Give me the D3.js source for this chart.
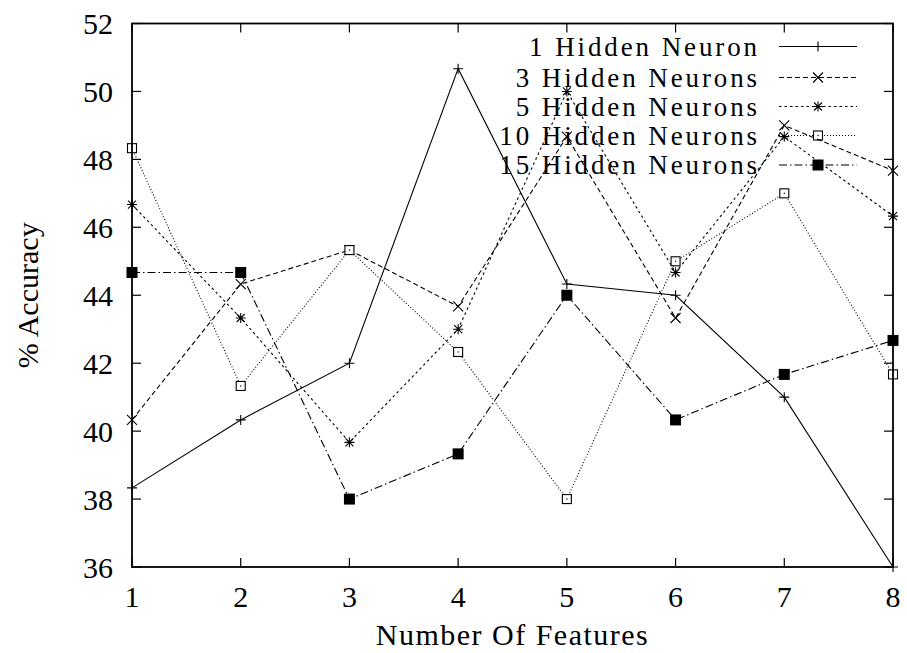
<!DOCTYPE html>
<html>
<head>
<meta charset="utf-8">
<script src="https://cdn.jsdelivr.net/npm/d3@7"></script>
<style>
  html, body { margin: 0; padding: 0; background: #fff; }
  svg { display: block; }
  text { font-family: "Liberation Serif", "Times New Roman", serif; fill: #000; }
</style>
</head>
<body>
<svg id="chart" width="907" height="653"></svg>
<script>
// Accuracy (%) against number of input features, one series per hidden-layer size
const features = [1, 2, 3, 4, 5, 6, 7, 8];
const hidden1  = [38.33, 40.33, 42.00, 50.67, 44.33, 44.00, 41.00, 36.00];
const hidden3  = [40.33, 44.33, 45.33, 43.67, 48.67, 43.33, 49.00, 47.67];
const hidden5  = [46.67, 43.33, 39.67, 43.00, 50.00, 44.67, 48.67, 46.33];
const hidden10 = [48.33, 41.33, 45.33, 42.33, 38.00, 45.00, 47.00, 41.67];
const hidden15 = [44.67, 44.67, 38.00, 39.33, 44.00, 40.33, 41.67, 42.67];
const seriesNames = ["1 Hidden Neuron", "3 Hidden Neurons", "5 Hidden Neurons",
                     "10 Hidden Neurons", "15 Hidden Neurons"];
const yTicks = [36, 38, 40, 42, 44, 46, 48, 50, 52];
const xTicks = [1, 2, 3, 4, 5, 6, 7, 8];

const W = 907, H = 653;
const margin = { top: 23.5, right: 14, bottom: 86, left: 132 };
const iw = W - margin.left - margin.right;
const ih = H - margin.top - margin.bottom;
const fontSize = 30;
const legendFontSize = 27;

const svg = d3.select("#chart");
const g = svg.append("g").attr("transform", `translate(${margin.left},${margin.top})`);

const x = d3.scaleLinear().domain([1, 8]).range([0, iw]);
const y = d3.scaleLinear().domain([36, 52]).range([ih, 0]);

const series = [hidden1, hidden3, hidden5, hidden10, hidden15];
const styles = [
  { dash: null,            marker: "plus" },
  { dash: "5,3",           marker: "cross" },
  { dash: "2.5,3",         marker: "star" },
  { dash: "1,2",           marker: "box" },
  { dash: "8,3,1.5,3",     marker: "fbox" }
];

// widen a text by spreading its letters so it spans a target width
function spreadTo(sel, target) {
  sel.each(function () {
    const n = this.textContent.length;
    const w = this.getComputedTextLength();
    if (n > 1 && w < target) d3.select(this).style("letter-spacing", ((target - w) / (n - 1)) + "px");
  });
}

function drawMarker(sel, type, cx, cy) {
  const s = 5;
  if (type === "plus") {
    sel.append("path").attr("d", `M${cx - s},${cy}H${cx + s}M${cx},${cy - s}V${cy + s}`)
      .attr("stroke", "#000").attr("stroke-width", 1.1).attr("fill", "none");
  } else if (type === "cross") {
    sel.append("path").attr("d", `M${cx - s},${cy - s}L${cx + s},${cy + s}M${cx - s},${cy + s}L${cx + s},${cy - s}`)
      .attr("stroke", "#000").attr("stroke-width", 1.1).attr("fill", "none");
  } else if (type === "star") {
    sel.append("path").attr("d",
      `M${cx - s},${cy}H${cx + s}M${cx},${cy - s}V${cy + s}` +
      `M${cx - s * 0.8},${cy - s * 0.8}L${cx + s * 0.8},${cy + s * 0.8}M${cx - s * 0.8},${cy + s * 0.8}L${cx + s * 0.8},${cy - s * 0.8}`)
      .attr("stroke", "#000").attr("stroke-width", 1.1).attr("fill", "none");
  } else if (type === "box") {
    sel.append("rect").attr("x", cx - 4.5).attr("y", cy - 4.5).attr("width", 9).attr("height", 9)
      .attr("stroke", "#000").attr("stroke-width", 1.1).attr("fill", "#fff");
    sel.append("rect").attr("x", cx - 0.6).attr("y", cy - 0.6).attr("width", 1.2).attr("height", 1.2)
      .attr("fill", "#000");
  } else if (type === "fbox") {
    sel.append("rect").attr("x", cx - 5.5).attr("y", cy - 5.5).attr("width", 11).attr("height", 11)
      .attr("fill", "#000");
  }
}

// ticks on all four sides, pointing inward
const tickLen = 9;
const ticks = g.append("g").attr("stroke", "#000").attr("stroke-width", 1.2);
yTicks.forEach(v => {
  ticks.append("line").attr("x1", 0).attr("x2", tickLen).attr("y1", y(v)).attr("y2", y(v));
  ticks.append("line").attr("x1", iw).attr("x2", iw - tickLen).attr("y1", y(v)).attr("y2", y(v));
});
xTicks.forEach(v => {
  ticks.append("line").attr("x1", x(v)).attr("x2", x(v)).attr("y1", ih).attr("y2", ih - tickLen);
  ticks.append("line").attr("x1", x(v)).attr("x2", x(v)).attr("y1", 0).attr("y2", tickLen);
});

// tick labels
g.append("g").selectAll("text").data(yTicks).join("text")
  .attr("x", -19).attr("y", d => y(d)).attr("dy", "0.35em")
  .attr("text-anchor", "end").attr("font-size", fontSize).text(d => d);
g.append("g").selectAll("text").data(xTicks).join("text")
  .attr("x", d => x(d)).attr("y", ih + 29).attr("dy", "0.35em")
  .attr("text-anchor", "middle").attr("font-size", fontSize).text(d => d);

// axis titles
svg.append("text").attr("x", margin.left + iw / 2).attr("y", 634).attr("dy", "0.35em")
  .attr("text-anchor", "middle").attr("font-size", fontSize).text("Number Of Features")
  .call(spreadTo, 272);
svg.append("text").attr("transform", `translate(27,${margin.top + ih / 2}) rotate(-90)`)
  .attr("dy", "0.35em").attr("text-anchor", "middle").attr("font-size", fontSize).text("% Accuracy")
  .call(spreadTo, 118);

// legend
const legend = g.append("g");
const legTextX = 760 - margin.left, legLine0 = 779 - margin.left, legLine1 = 857 - margin.left;
const legMark = 818 - margin.left;
const legY = [46.5, 77.5, 106.5, 135.5, 165].map(v => v - margin.top);
const legendTexts = [];
seriesNames.forEach((name, i) => {
  legendTexts.push(legend.append("text").attr("x", legTextX).attr("y", legY[i]).attr("dy", "0.35em")
    .attr("text-anchor", "end").attr("font-size", legendFontSize).text(name));
  legend.append("line").attr("x1", legLine0).attr("x2", legLine1).attr("y1", legY[i]).attr("y2", legY[i])
    .attr("stroke", "#000").attr("stroke-width", 1.1).attr("stroke-dasharray", styles[i].dash);
  drawMarker(legend, styles[i].marker, legMark, legY[i]);
});
// same letter spacing for every legend row, set so the first row spans its width
const firstW = legendTexts[0].node().getComputedTextLength();
const legSpacing = Math.max(0, (228 - firstW) / (seriesNames[0].length - 1));
legendTexts.forEach(t => t.style("letter-spacing", legSpacing + "px"));

// series lines and markers
const line = d3.line().x((d, i) => x(features[i])).y(d => y(d));
series.forEach((vals, i) => {
  g.append("path").datum(vals).attr("d", line)
    .attr("fill", "none").attr("stroke", "#000").attr("stroke-width", 1.1)
    .attr("stroke-dasharray", styles[i].dash);
  const mg = g.append("g");
  vals.forEach((v, j) => drawMarker(mg, styles[i].marker, x(features[j]), y(v)));
});

// plot frame
g.append("rect").attr("x", 0).attr("y", 0).attr("width", iw).attr("height", ih)
  .attr("fill", "none").attr("stroke", "#000").attr("stroke-width", 1.8);
</script>
</body>
</html>
